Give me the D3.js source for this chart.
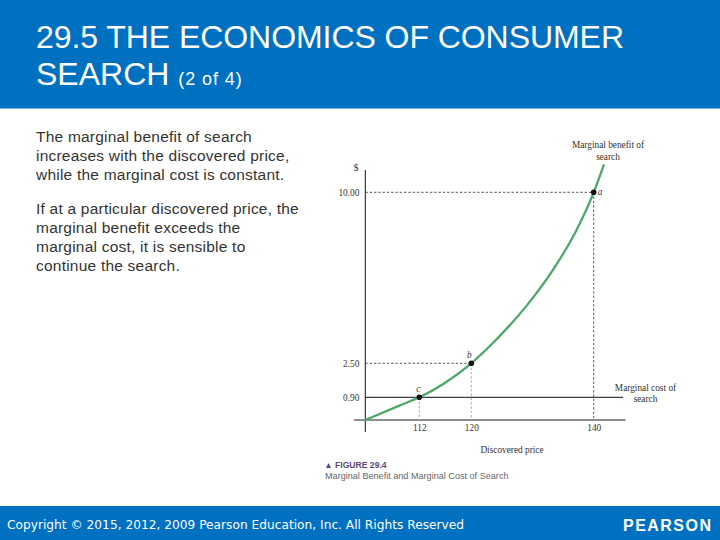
<!DOCTYPE html>
<html><head><meta charset="utf-8">
<script src="https://cdn.jsdelivr.net/npm/d3@7/dist/d3.min.js"></script>
<style>html,body{margin:0;padding:0;background:#fff}svg{display:block}</style>
</head><body><svg id="c" width="720" height="540"></svg>
<script>
const priceTicks = [112, 120, 140];
const costTicks = [0.90, 2.50, 10.00];
const tickLabels = ["0.90", "2.50", "10.00"];
const curvePrices = [104, 109.14, 112, 115.7, 120, 123.6, 129.05, 133.4, 137.2, 140, 141.7];
const curveBenefit = [0, 0.58, 0.90, 1.53, 2.50, 3.41, 5.03, 6.62, 8.35, 10.0, 11.23];
const pointNames = ["c", "b", "a"];
const marginalCost = 0.90;
const titleLines = ["29.5 THE ECONOMICS OF CONSUMER", "SEARCH"];
const titleSuffix = "(2 of 4)";
const para1 = ["The marginal benefit of search", "increases with the discovered price,", "while the marginal cost is constant."];
const para2 = ["If at a particular discovered price, the", "marginal benefit exceeds the", "marginal cost, it is sensible to", "continue the search."];

const svg = d3.select("#c");
const BLUE = "#0070c0", SERIF = "'Liberation Serif',serif", SANS = "'Liberation Sans',sans-serif";
svg.append("rect").attr("width",720).attr("height",108.5).attr("fill",BLUE);
svg.append("rect").attr("y",506).attr("width",720).attr("height",34).attr("fill",BLUE);
const title = svg.append("g").attr("fill","#fff").attr("font-family",SANS).attr("font-size",32);
title.append("text").attr("x",36).attr("y",48).attr("textLength",588).text(titleLines[0]);
const t2 = title.append("text").attr("x",36).attr("y",85).text(titleLines[1]);
t2.append("tspan").attr("font-size",18).attr("dx",9).attr("letter-spacing",0.9).text(titleSuffix);
const body = svg.append("g").attr("fill","#333").attr("font-family",SANS).attr("font-size",15.5).attr("letter-spacing",0.22);
para1.forEach((s,i)=>body.append("text").attr("x",36).attr("y",141.5+i*19).text(s));
para2.forEach((s,i)=>body.append("text").attr("x",36).attr("y",213.5+i*19.3).text(s));
svg.append("text").attr("x",7).attr("y",529).attr("fill","#fff").attr("font-family","'DejaVu Sans',sans-serif").attr("font-size",12.2).attr("textLength",457).text("Copyright © 2015, 2012, 2009 Pearson Education, Inc. All Rights Reserved");
svg.append("text").attr("x",623).attr("y",530.5).attr("fill","#fff").attr("font-family",SANS).attr("font-size",16).attr("font-weight","bold").attr("textLength",88).text("PEARSON");

// The original figure's axes are not drawn to a uniform scale, so the scales are piecewise.
const x = d3.scaleLinear().domain([104,112,120,140,145]).range([365.3,419.3,471.3,593.7,624]);
const y = d3.scaleLinear().domain([0,0.90,2.50,10,11.2]).range([420,397.3,363.3,192.3,165]);
const line = d3.line().x(d=>x(d[0])).y(d=>y(d[1])).curve(d3.curveMonotoneX);
const curve = curvePrices.map((p,i)=>[p,curveBenefit[i]]);
const pts = priceTicks.map((p,i)=>[p,costTicks[i]]);

const serif = {"font-family":SERIF,"font-size":9.3,"fill":"#333"};
const yAxis = svg.append("g").attr("transform",`translate(${x(104)},0)`)
  .call(d3.axisLeft(y).tickValues(costTicks).tickSize(0).tickPadding(6).tickFormat((d,i)=>tickLabels[i]));
yAxis.select(".domain").remove();
yAxis.append("line").attr("y1",170).attr("y2",432).attr("stroke","#111").attr("stroke-width",1);
yAxis.selectAll("text").attr("font-family",SERIF).attr("font-size",9.3).attr("fill","#333");
const xAxis = svg.append("g").attr("transform",`translate(0,${y(0)})`)
  .call(d3.axisBottom(x).tickValues(priceTicks).tickSize(0).tickPadding(4));
xAxis.select(".domain").remove();
xAxis.append("line").attr("x1",354).attr("x2",625.5).attr("stroke","#8c8c8c").attr("stroke-width",2);
xAxis.selectAll("text").attr("font-family",SERIF).attr("font-size",9.3).attr("fill","#333");

const guides = svg.append("g");
pts.forEach(d=>{
  guides.append("line").attr("x1",x(104)).attr("x2",x(d[0])).attr("y1",y(d[1])).attr("y2",y(d[1]))
    .attr("stroke",d[1]===marginalCost?"none":"#333").attr("stroke-width",0.8).attr("stroke-dasharray","2.5 1.8");
  guides.append("line").attr("x1",x(d[0])).attr("x2",x(d[0])).attr("y1",y(d[1])).attr("y2",y(0))
    .attr("stroke",d[0]===140?"#333":"#999").attr("stroke-width",0.8).attr("stroke-dasharray","2.5 1.8");
});
svg.append("line").attr("x1",x(104)).attr("x2",623).attr("y1",y(marginalCost)).attr("y2",y(marginalCost)).attr("stroke","#111").attr("stroke-width",1);
svg.append("path").attr("d",line(curve)).attr("fill","none").attr("stroke","#4fa66a").attr("stroke-width",2.3);
svg.selectAll("circle").data(pts).join("circle").attr("cx",d=>x(d[0])).attr("cy",d=>y(d[1])).attr("r",2.8).attr("fill","#111");
const label=(s,px,py,anchor,extra={})=>{const t=svg.append("text").attr("x",px).attr("y",py).attr("text-anchor",anchor).text(s);
  Object.entries({...serif,...extra}).forEach(([k,v])=>t.attr(k,v));return t;};
label(pointNames[0],x(112)-1,y(0.9)-5,"middle",{"font-style":"italic"});
label(pointNames[1],x(120)-2,y(2.5)-5,"middle",{"font-style":"italic"});
label(pointNames[2],x(140)+4,y(10)+3,"start",{"font-style":"italic"});
label("$",356,171,"middle");
label("Marginal benefit of",608,148,"middle");
label("search",608,159.5,"middle");
label("Marginal cost of",645.5,391,"middle");
label("search",645.5,402,"middle");
label("Discovered price",512,452.5,"middle");
const figure = svg.append("g").attr("font-family",SANS).attr("font-size",9.1);
figure.append("path").attr("d","M326 468h5l-2.5-5z").attr("fill","#5a4a7a");
figure.append("text").attr("x",335).attr("y",467.5).attr("font-weight","bold").attr("font-size",8.6).attr("fill","#5a4a7a").text("FIGURE 29.4");
figure.append("text").attr("x",325).attr("y",479).attr("fill","#666").text("Marginal Benefit and Marginal Cost of Search");
</script></body></html>
